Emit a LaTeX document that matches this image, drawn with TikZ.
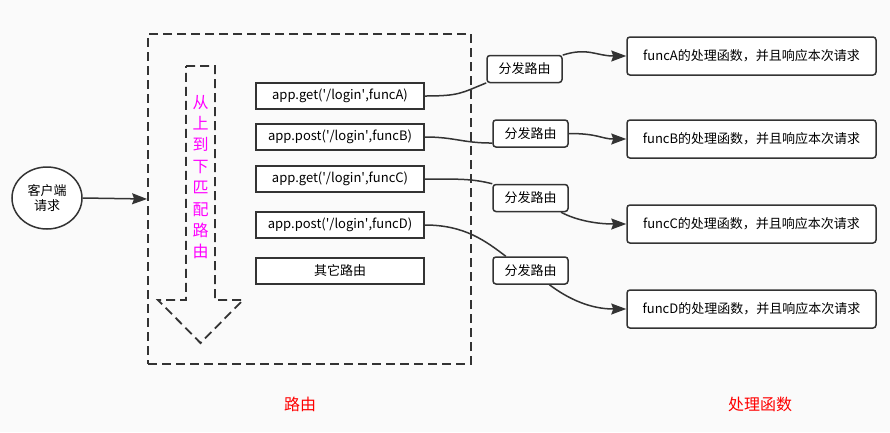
\documentclass[tikz,border=0pt]{standalone}
\usepackage{fontspec}
\setmainfont{Noto Sans CJK SC}
\usetikzlibrary{arrows.meta,shapes.geometric}
\definecolor{linegray}{HTML}{333333}
\definecolor{bggray}{HTML}{FAFAFA}
\definecolor{ordermagenta}{HTML}{FF00FF}
\definecolor{captionred}{HTML}{FF0000}
\newcommand{\q}{\textquotesingle}

\begin{document}
\begin{tikzpicture}[x=1pt,y=-1pt,
		>={Stealth[length=15pt,width=11pt,inset=2pt]},
		client/.style={ellipse,draw=linegray,line width=1.5pt,fill=white,minimum width=70pt,minimum height=62pt,inner sep=0pt,align=center,font=\fontsize{13}{15}\selectfont},
		route/.style={rectangle,draw=linegray,line width=1.8pt,fill=white,minimum width=168pt,minimum height=26pt,inner sep=0pt,font=\fontsize{13}{15}\selectfont},
		dispatch/.style={rectangle,rounded corners=3pt,draw=linegray,line width=1.5pt,fill=white,minimum width=75pt,minimum height=27pt,inner sep=0pt,font=\fontsize{13}{15}\selectfont},
		handler/.style={rectangle,rounded corners=3pt,draw=linegray,line width=1.5pt,fill=white,minimum width=249pt,minimum height=38pt,inner sep=0pt,font=\fontsize{13}{15}\selectfont},
		conn/.style={draw=linegray,line width=1.5pt},
		dashline/.style={draw=linegray,line width=1.8pt,dash pattern=on 9pt off 5pt},
		caption/.style={text=captionred,font=\fontsize{16}{18}\selectfont}
	]
	% 背景
	\fill[bggray] (0,0) rectangle (890,432);
	% 路由の枠
	\node[dashline,rectangle,minimum width=323pt,minimum height=330pt] (router) at (309.5,199) {};
	% 上から下への矢印
	\draw[dashline] (186,66)--(215,66)--(215,300)--(243,300)--(200.5,343)--(158,300)--(186,300)--cycle;
	\node[text=ordermagenta,align=center,font=\fontsize{16}{21.4}\selectfont] (order) at (200.5,177) {从\\上\\到\\下\\匹\\配\\路\\由};
	% クライアント
	\node[client] (client) at (47,198) {客户端\\请求};
	\draw[conn,->] (client.east)--(router.west);
	% 路由
	\node[route] (rA) at (340,96) {app.get(\q/login\q,funcA)};
	\node[route] (rB) at (340,137) {app.post(\q/login\q,funcB)};
	\node[route] (rC) at (340,179) {app.get(\q/login\q,funcC)};
	\node[route] (rD) at (340,225) {app.post(\q/login\q,funcD)};
	\node[route] (rOther) at (340,271) {其它路由};
	% 処理函数
	\node[handler] (hA) at (751.5,56) {funcA的处理函数，并且响应本次请求};
	\node[handler] (hB) at (751.5,139) {funcB的处理函数，并且响应本次请求};
	\node[handler] (hC) at (751.5,224) {funcC的处理函数，并且响应本次请求};
	\node[handler] (hD) at (751.5,309) {funcD的处理函数，并且响应本次请求};
	% 分发路由
	\node[dispatch] (dA) at (524.5,69) {分发路由};
	\node[dispatch] (dB) at (530.5,133.5) {分发路由};
	\node[dispatch] (dC) at (530.5,198) {分发路由};
	\node[dispatch] (dD) at (530.5,270.5) {分发路由};
	% 線の描画
	\draw[conn] (rA.east) .. controls +(35,0) and +(-25,10) .. (dA.200);
	\draw[conn,->] (dA.20) .. controls +(25,-8) and +(-30,0) .. (hA.west);
	\draw[conn] (rB.east) .. controls +(30,0) and +(-30,0) .. (dB.194);
	\draw[conn,->] (dB.east) .. controls +(30,0) and +(-25,0) .. (hB.west);
	\draw[conn] (rC.east) .. controls +(35,0) and +(-20,-5) .. (dC.north west);
	\draw[conn,->] (dC.-25) .. controls +(15,8) and +(-30,0) .. (hC.west);
	\draw[conn] (rD.east) .. controls +(40,0) and +(-20,-15) .. (dD.150);
	\draw[conn,->] (dD.-37) .. controls +(20,15) and +(-35,0) .. (hD.west);
	% 見出し
	\node[caption] (routeCaption) at (300,404) {路由};
	\node[caption] (handlerCaption) at (760,404) {处理函数};
\end{tikzpicture}
\end{document}
